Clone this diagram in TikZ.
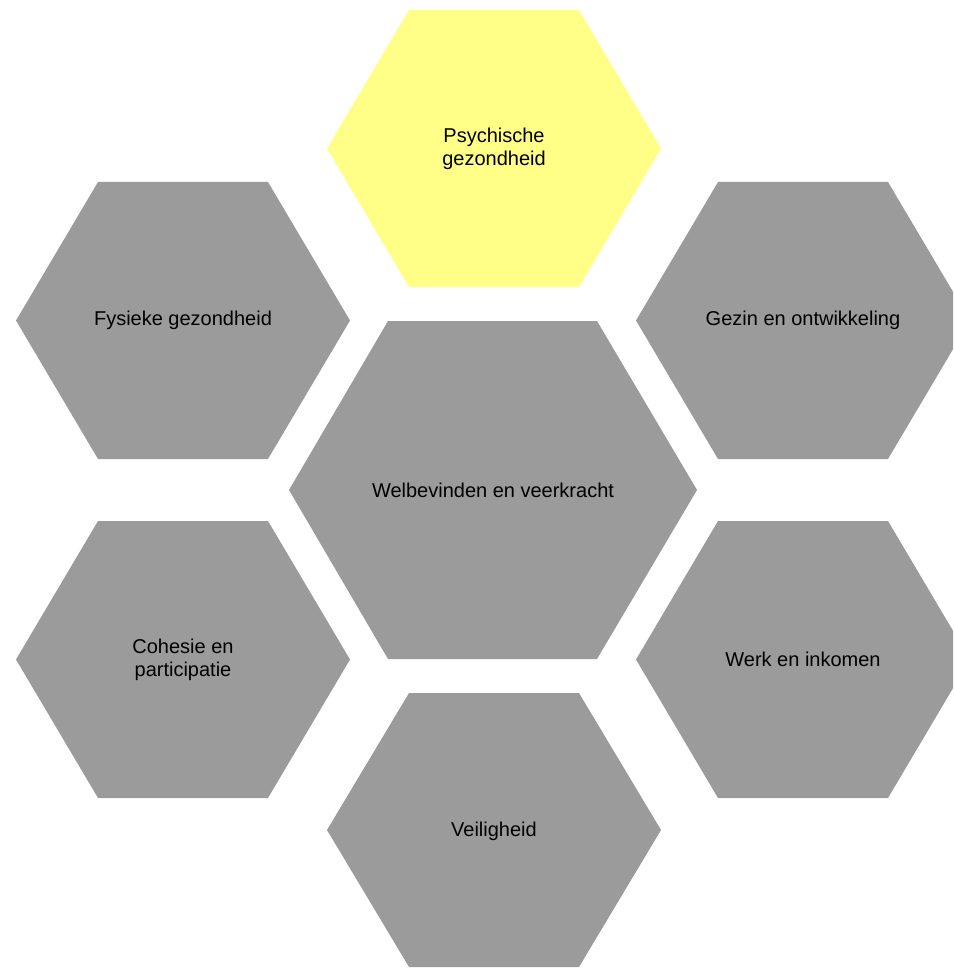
\documentclass[tikz,border=0pt]{standalone}
\usepackage{fontspec}
\setmainfont{Liberation Sans}
\definecolor{hexgray}{HTML}{9B9B9B}
\definecolor{hexyellow}{HTML}{FFFF88}
\tikzset{
  hexlabel/.style={font=\fontsize{20}{23}\selectfont, align=center, text=black, inner sep=0pt},
}
% small hexagon: centre x, centre y, colour
\newcommand{\smallhex}[3]{%
  \fill[#3] (#1-167,#2) -- (#1-85,#2-138.5) -- (#1+85,#2-138.5) -- (#1+167,#2)
     -- (#1+85,#2+138.5) -- (#1-85,#2+138.5) -- cycle;}
\begin{document}
\begin{tikzpicture}[x=1pt,y=-1pt]
\useasboundingbox (0,0) rectangle (953,968);
\begin{scope}
\clip (0,0) rectangle (953,968);
\smallhex{494}{148.5}{hexyellow}
\smallhex{183}{320.5}{hexgray}
\smallhex{803}{320.5}{hexgray}
\smallhex{183}{659.5}{hexgray}
\smallhex{803}{659.5}{hexgray}
\fill[hexgray] (494-167,830) -- (494-85,693) -- (494+85,693) -- (494+167,830)
     -- (494+85,967) -- (494-85,967) -- cycle;
\fill[hexgray] (289,490) -- (388,321) -- (597,321) -- (697,490)
     -- (597,659) -- (388,659) -- cycle;
\end{scope}
\node[hexlabel] (psych) at (494,148.5) {Psychische\\gezondheid};
\node[hexlabel] (fys) at (183,320.5) {Fysieke gezondheid};
\node[hexlabel] (gezin) at (803,320.5) {Gezin en ontwikkeling};
\node[hexlabel] (welb) at (493,490) {Welbevinden en veerkracht};
\node[hexlabel] (coh) at (183,659.5) {Cohesie en\\participatie};
\node[hexlabel] (werk) at (803,659.5) {Werk en inkomen};
\node[hexlabel] (veil) at (494,831) {Veiligheid};
\end{tikzpicture}
\end{document}
